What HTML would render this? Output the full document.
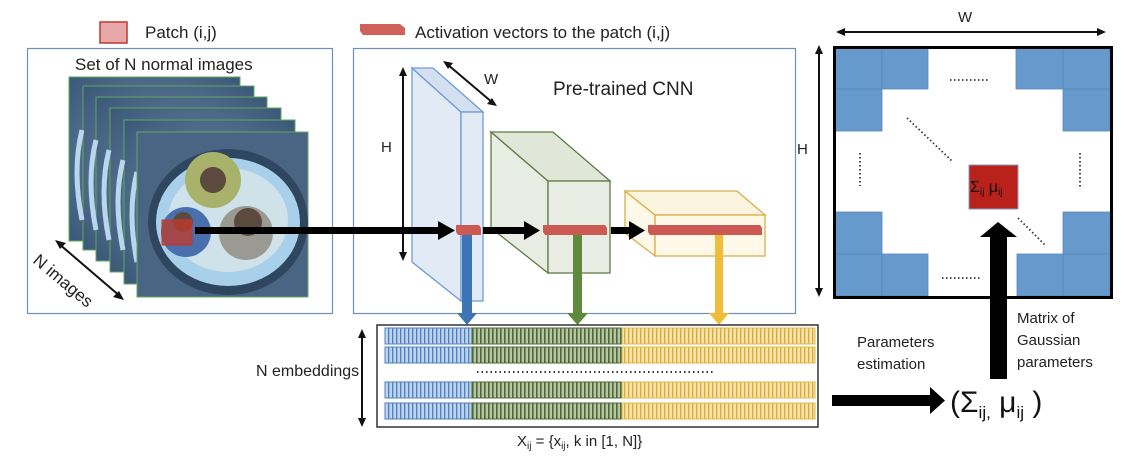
<!DOCTYPE html>
<html><head><meta charset="utf-8"><style>
html,body{margin:0;padding:0;background:#fff;}
svg{display:block;font-family:"Liberation Sans",sans-serif;}
</style></head><body>
<svg width="1138" height="458" viewBox="0 0 1138 458" xmlns="http://www.w3.org/2000/svg">
<defs>
<pattern id="pb" width="4" height="10" patternUnits="userSpaceOnUse"><rect width="4" height="10" fill="#bcd3ee"/><rect width="1.3" height="10" fill="#4f7fbf"/></pattern>
<pattern id="pg" width="4" height="10" patternUnits="userSpaceOnUse"><rect width="4" height="10" fill="#b7c4a6"/><rect width="1.6" height="10" fill="#4d6a35"/></pattern>
<pattern id="py" width="4" height="10" patternUnits="userSpaceOnUse"><rect width="4" height="10" fill="#f7e3a8"/><rect width="1.3" height="10" fill="#d9ab3a"/></pattern>
<radialGradient id="bg" cx="0.5" cy="0.5" r="0.7"><stop offset="0" stop-color="#6f8aa8"/><stop offset="1" stop-color="#3c5878"/></radialGradient>
</defs>

<rect x="100" y="22" width="27" height="21" fill="#e6a8a8" stroke="#c0392b" stroke-width="1.5"/>
<text x="145" y="38" font-size="17" fill="#222">Patch (i,j)</text>
<polygon points="360,24 400,24 405,28 405,35 363,35 360,31" fill="#d0605a"/>
<text x="415" y="38" font-size="17" fill="#222">Activation vectors to the patch (i,j)</text>

<rect x="27.5" y="48.5" width="305" height="265" fill="none" stroke="#6f8fbf" stroke-width="1.2"/>
<text x="75" y="70" font-size="17" fill="#222">Set of N normal images</text>
<g stroke="#5da85d" stroke-width="1">
<rect x="69" y="77" width="171" height="164" fill="url(#bg)"/>
<rect x="83" y="86" width="171" height="164" fill="url(#bg)"/>
<rect x="96" y="97" width="171" height="164" fill="url(#bg)"/>
<rect x="110" y="108" width="171" height="164" fill="url(#bg)"/>
<rect x="124" y="120" width="171" height="164" fill="url(#bg)"/>
</g>
<g fill="none" stroke="#b9d6ee" stroke-width="5">
<path d="M82,130 Q72,170 82,220"/><path d="M96,140 Q86,180 96,230"/><path d="M109,150 Q99,190 109,240"/><path d="M123,160 Q113,200 123,250"/><path d="M137,172 Q127,212 137,262"/>
</g>
<rect x="137" y="132" width="171" height="165" fill="#4a6584" stroke="#5da85d"/>
<ellipse cx="228" cy="222" rx="80" ry="73" fill="#2f4660"/>
<ellipse cx="228" cy="222" rx="72" ry="64" fill="#a9d0ea"/>
<ellipse cx="228" cy="220" rx="60" ry="52" fill="#cfe2ea"/>
<circle cx="213" cy="180" r="28" fill="#a8b26a"/>
<circle cx="213" cy="180" r="13" fill="#5b4a3d"/>
<circle cx="186" cy="232" r="25" fill="#4a6fae"/>
<circle cx="183" cy="222" r="10" fill="#5b4a3d"/>
<circle cx="246" cy="233" r="27" fill="#9a9a92"/>
<circle cx="248" cy="222" r="14" fill="#5b4a3d"/>
<rect x="162" y="220" width="30" height="25" fill="#c0392b" fill-opacity="0.75" stroke="#c0392b"/>
<line x1="58" y1="243" x2="121" y2="297" stroke="#111" stroke-width="2"/>
<polygon points="55,240 66,243 60,249" fill="#111"/><polygon points="124,300 113,297 119,291" fill="#111"/>
<text x="0" y="0" font-size="17" fill="#222" transform="translate(32,262) rotate(40)">N images</text>

<rect x="353.5" y="48.5" width="442" height="265" fill="none" stroke="#6f8fbf" stroke-width="1.2"/>
<text x="553" y="95" font-size="19" fill="#222">Pre-trained CNN</text>
<line x1="403" y1="72" x2="403" y2="256" stroke="#111" stroke-width="2"/>
<polygon points="403,67 399,76 407,76" fill="#111"/><polygon points="403,261 399,252 407,252" fill="#111"/>
<text x="381" y="152" font-size="15" fill="#222">H</text>
<line x1="447" y1="64" x2="493" y2="103" stroke="#111" stroke-width="2"/>
<polygon points="443,61 453,63 448,69" fill="#111"/><polygon points="497,106 487,104 492,98" fill="#111"/>
<text x="484" y="84" font-size="15" fill="#222">W</text>
<g fill="#dfe8f5" stroke="#6f9bd6" stroke-width="1.3" fill-opacity="0.9">
<polygon points="412,68 461,112 461,301 412,262"/>
<polygon points="412,68 433,68 483,112 461,112" fill="#cfdcee"/>
<rect x="461" y="112" width="22" height="189"/>
</g>
<g fill="#e6ebe0" stroke="#5f7b45" stroke-width="1.3" fill-opacity="0.9">
<polygon points="491,132 548,181 548,273 491,228"/>
<polygon points="491,132 553,132 610,181 548,181" fill="#dde4d4"/>
<rect x="548" y="181" width="62" height="92"/>
</g>
<g fill="#fdf7e6" stroke="#d9ae4a" stroke-width="1.3" fill-opacity="0.9">
<polygon points="625,191 655,215 655,256 625,233"/>
<polygon points="625,191 737,191 765,215 655,215" fill="#fbf3dc"/>
<rect x="655" y="215" width="110" height="41"/>
</g>
<rect x="195" y="227" width="245" height="7" fill="#000"/><polygon points="438,221 455,230.5 438,240" fill="#000"/>
<rect x="483" y="227" width="43" height="7" fill="#000"/><polygon points="524,221 540,230.5 524,240" fill="#000"/>
<rect x="611" y="227" width="20" height="7" fill="#000"/><polygon points="629,221 645,230.5 629,240" fill="#000"/>
<polygon points="456,225 479,225 481,228 481,235 458,235 456,232" fill="#cc5a52"/>
<polygon points="543,225 605,225 607,228 607,235 545,235 543,232" fill="#cc5a52"/>
<polygon points="648,225 760,225 762,228 762,235 650,235 648,232" fill="#cc5a52"/>
<rect x="462" y="235" width="10" height="80" fill="#3e73b5"/><polygon points="457,313 477,313 467,325" fill="#3e73b5"/>
<rect x="573" y="235" width="9" height="80" fill="#5d8a3c"/><polygon points="567,313 588,313 577.5,325" fill="#5d8a3c"/>
<rect x="715" y="235" width="8" height="80" fill="#f0bd3a"/><polygon points="709,313 729,313 719,325" fill="#f0bd3a"/>

<rect x="377" y="325" width="441" height="102" fill="#fff" stroke="#333" stroke-width="1.5"/>
<g stroke-width="1">
<g transform="translate(0,328)"><rect x="385" width="87" height="16" fill="url(#pb)" stroke="#4f7fbf"/><rect x="472" width="150" height="16" fill="url(#pg)" stroke="#4d6a35"/><rect x="622" width="193" height="16" fill="url(#py)" stroke="#e0b84a"/></g>
<g transform="translate(0,347)"><rect x="385" width="87" height="16" fill="url(#pb)" stroke="#4f7fbf"/><rect x="472" width="150" height="16" fill="url(#pg)" stroke="#4d6a35"/><rect x="622" width="193" height="16" fill="url(#py)" stroke="#e0b84a"/></g>
<g transform="translate(0,382)"><rect x="385" width="87" height="16" fill="url(#pb)" stroke="#4f7fbf"/><rect x="472" width="150" height="16" fill="url(#pg)" stroke="#4d6a35"/><rect x="622" width="193" height="16" fill="url(#py)" stroke="#e0b84a"/></g>
<g transform="translate(0,403)"><rect x="385" width="87" height="16" fill="url(#pb)" stroke="#4f7fbf"/><rect x="472" width="150" height="16" fill="url(#pg)" stroke="#4d6a35"/><rect x="622" width="193" height="16" fill="url(#py)" stroke="#e0b84a"/></g>
</g>
<line x1="477" y1="372" x2="714" y2="372" stroke="#333" stroke-width="2" stroke-dasharray="1.5,3"/>
<line x1="362" y1="334" x2="362" y2="422" stroke="#111" stroke-width="2"/>
<polygon points="362,329 358,338 366,338" fill="#111"/><polygon points="362,427 358,418 366,418" fill="#111"/>
<text x="256" y="376" font-size="16" fill="#222">N embeddings</text>
<text x="517" y="446" font-size="15" fill="#222">X<tspan font-size="10" dy="3">ij</tspan><tspan dy="-3"> = {x</tspan><tspan font-size="10" dy="3">ij</tspan><tspan dy="-3">, k in [1, N]}</tspan></text>

<line x1="842" y1="32" x2="1100" y2="32" stroke="#111" stroke-width="2"/>
<polygon points="836,32 845,28 845,36" fill="#111"/><polygon points="1106,32 1097,28 1097,36" fill="#111"/>
<text x="958" y="22" font-size="15" fill="#222">W</text>
<line x1="819" y1="50" x2="819" y2="292" stroke="#111" stroke-width="2"/>
<polygon points="819,45 815,54 823,54" fill="#111"/><polygon points="819,297 815,288 823,288" fill="#111"/>
<text x="797" y="154" font-size="15" fill="#222">H</text>
<g fill="#6699cc" stroke="#5a88b8" stroke-width="0.8">
<rect x="835" y="48" width="47" height="41"/><rect x="882" y="48" width="46" height="41"/><rect x="835" y="89" width="47" height="42"/>
<rect x="1016" y="48" width="47" height="41"/><rect x="1063" y="48" width="47" height="41"/><rect x="1063" y="89" width="47" height="42"/>
<rect x="835" y="212" width="47" height="42"/><rect x="835" y="254" width="47" height="42"/><rect x="882" y="254" width="46" height="42"/>
<rect x="1063" y="212" width="47" height="42"/><rect x="1017" y="254" width="46" height="42"/><rect x="1063" y="254" width="47" height="42"/>
</g>
<rect x="834.5" y="47.5" width="277" height="250" fill="none" stroke="#000" stroke-width="3"/>
<g stroke="#333" stroke-width="1.8" stroke-dasharray="1.5,2.5" fill="none">
<line x1="950" y1="80" x2="990" y2="80"/><line x1="942" y1="278" x2="982" y2="278"/>
<line x1="860" y1="153" x2="860" y2="186"/><line x1="1080" y1="153" x2="1080" y2="188"/>
<line x1="907" y1="118" x2="952" y2="161"/><line x1="1018" y1="218" x2="1045" y2="245"/>
</g>
<rect x="969" y="165" width="49" height="44" fill="#b8221b" stroke="#8a9bc0"/>
<text x="970" y="192" font-size="16" fill="#111">Σ<tspan font-size="10" dy="3">ij</tspan><tspan dy="-3"> μ</tspan><tspan font-size="10" dy="3">ij</tspan></text>
<rect x="990" y="236" width="17" height="143" fill="#000"/><polygon points="980,237 998,222 1017,237" fill="#000"/>
<text x="1017" y="323" font-size="15" fill="#222">Matrix of</text>
<text x="1017" y="345" font-size="15" fill="#222">Gaussian</text>
<text x="1017" y="367" font-size="15" fill="#222">parameters</text>
<text x="857" y="347" font-size="15" fill="#222">Parameters</text>
<text x="857" y="369" font-size="15" fill="#222">estimation</text>
<rect x="832" y="395" width="100" height="11" fill="#000"/><polygon points="930,387 945,400.5 930,414" fill="#000"/>
<text x="950" y="412" font-size="30" fill="#111">(Σ<tspan font-size="17" dy="6">ij,</tspan><tspan dy="-6"> μ</tspan><tspan font-size="17" dy="6">ij</tspan><tspan dy="-6"> )</tspan></text>
</svg>
</body></html>
